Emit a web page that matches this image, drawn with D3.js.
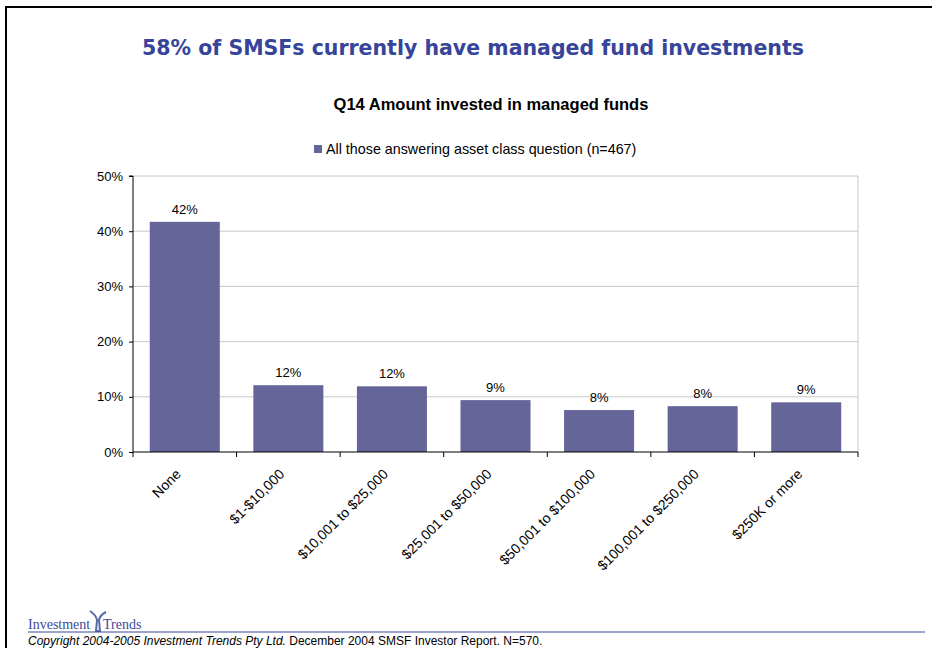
<!DOCTYPE html>
<html>
<head>
<meta charset="utf-8">
<script src="https://cdn.jsdelivr.net/npm/d3@7"></script>
<style>
  body { margin: 0; background: #fff; }
  svg { display: block; }
</style>
</head>
<body>
<script>
// chart data
let categories = ["None", "$1-$10,000", "$10,001 to $25,000", "$25,001 to $50,000",
                  "$50,001 to $100,000", "$100,001 to $250,000", "$250K or more"]
let values = [41.7, 12.1, 11.9, 9.4, 7.6, 8.3, 9.0]
let valueLabels = ["42%", "12%", "12%", "9%", "8%", "8%", "9%"]
let yTicks = [0, 10, 20, 30, 40, 50]

let width = 932
let height = 648
let margin = {top: 176, left: 133, right: 74, bottom: 196}
let plotW = width - margin.left - margin.right
let plotH = height - margin.top - margin.bottom

let svg = d3.select("body")
            .append("svg")
            .attr("width", width)
            .attr("height", height)

// page frame (top and left edge)
svg.append("line").attr("x1", 5).attr("x2", width).attr("y1", 7).attr("y2", 7)
    .attr("stroke", "#000").attr("stroke-width", 2)
svg.append("line").attr("x1", 6).attr("x2", 6).attr("y1", 6).attr("y2", height)
    .attr("stroke", "#000").attr("stroke-width", 2)

svg.append("text")
    .attr("x", 473).attr("y", 55)
    .attr("text-anchor", "middle")
    .style("font-family", "DejaVu Sans, Verdana, sans-serif")
    .style("font-weight", "bold")
    .style("font-size", "20.5px")
    .style("fill", "#36459a")
    .text("58% of SMSFs currently have managed fund investments")

svg.append("text")
    .attr("x", 491).attr("y", 110)
    .attr("text-anchor", "middle")
    .style("font-family", "Liberation Sans, Arial, sans-serif")
    .style("font-weight", "bold")
    .style("font-size", "16.5px")
    .text("Q14 Amount invested in managed funds")

// legend
svg.append("rect").attr("x", 314).attr("y", 145).attr("width", 8).attr("height", 8)
    .attr("fill", "#65659a")
svg.append("text").attr("x", 326).attr("y", 154)
    .style("font-family", "Liberation Sans, Arial, sans-serif")
    .style("font-size", "14.3px")
    .text("All those answering asset class question (n=467)")

let xScale = d3.scaleBand()
                .domain(categories)
                .range([margin.left, margin.left + plotW])
                .paddingInner(0.324)
                .paddingOuter(0.162)

let yScale = d3.scaleLinear()
                .domain([0, 50])
                .range([margin.top + plotH, margin.top])

// gridlines
svg.append("g")
    .selectAll("line")
    .data(yTicks.slice(1))
    .enter()
    .append("line")
    .attr("x1", margin.left).attr("x2", margin.left + plotW)
    .attr("y1", d => yScale(d)).attr("y2", d => yScale(d))
    .attr("stroke", "#c8c8c8")

svg.append("line")
    .attr("x1", margin.left + plotW).attr("x2", margin.left + plotW)
    .attr("y1", margin.top).attr("y2", margin.top + plotH)
    .attr("stroke", "#c8c8c8")

// bars
svg.selectAll(".bar")
    .data(values)
    .enter()
    .append("rect")
    .attr("class", "bar")
    .attr("x", (d, i) => xScale(categories[i]))
    .attr("y", d => yScale(d))
    .attr("width", xScale.bandwidth())
    .attr("height", d => yScale(0) - yScale(d))
    .attr("fill", "#65659a")

svg.selectAll(".vlabel")
    .data(values)
    .enter()
    .append("text")
    .attr("class", "vlabel")
    .attr("x", (d, i) => xScale(categories[i]) + xScale.bandwidth() / 2)
    .attr("y", d => yScale(d) - 8)
    .attr("text-anchor", "middle")
    .style("font-family", "Liberation Sans, Arial, sans-serif")
    .style("font-size", "13px")
    .text((d, i) => valueLabels[i])

// y axis
let yAxis = d3.axisLeft(yScale)
                .tickValues(yTicks)
                .tickFormat(d => d + "%")
                .tickSize(4)
                .tickPadding(6)

svg.append("g")
    .attr("transform", "translate(" + margin.left + ",0)")
    .call(yAxis)
    .call(g => g.select(".domain").attr("d", "M-4," + yScale(50) + "H0V" + yScale(0)))
    .selectAll("text")
    .style("font-family", "Liberation Sans, Arial, sans-serif")
    .style("font-size", "13px")
    .attr("fill", "#000")

// x axis: ticks sit between the categories
let xAxisG = svg.append("g")
    .attr("transform", "translate(0," + yScale(0) + ")")

xAxisG.append("line")
    .attr("x1", margin.left).attr("x2", margin.left + plotW)
    .attr("stroke", "#000")

let step = xScale.step()
xAxisG.selectAll(".xtick")
    .data(d3.range(categories.length + 1))
    .enter()
    .append("line")
    .attr("class", "xtick")
    .attr("x1", i => margin.left + i * step)
    .attr("x2", i => margin.left + i * step)
    .attr("y1", 0).attr("y2", 5)
    .attr("stroke", "#000")

xAxisG.selectAll(".xlabel")
    .data(categories)
    .enter()
    .append("text")
    .attr("class", "xlabel")
    .attr("text-anchor", "end")
    .attr("transform", d => "translate(" + (xScale(d) + xScale.bandwidth() / 2 - 3) + ",23) rotate(-45)")
    .style("font-family", "Liberation Sans, Arial, sans-serif")
    .style("font-size", "14px")
    .text(d => d)

// footer
svg.append("text").attr("x", 28).attr("y", 629)
    .style("font-family", "Liberation Serif, Times New Roman, serif")
    .style("font-size", "14px")
    .style("fill", "#3b4a9a")
    .text("Investment")
svg.append("text").attr("x", 103).attr("y", 629)
    .style("font-family", "Liberation Serif, Times New Roman, serif")
    .style("font-size", "14px")
    .style("fill", "#3b4a9a")
    .text("Trends")
svg.append("path")
    .attr("d", "M90,611 Q96,615 97,620 L96,631 L100,631 L99,620 Q100,615 106,612")
    .attr("fill", "none").attr("stroke", "#5a6aa8").attr("stroke-width", 2)
svg.append("line").attr("x1", 28).attr("x2", 925).attr("y1", 632).attr("y2", 632)
    .attr("stroke", "#3b4a9a").attr("stroke-width", 1)

let foot = svg.append("text").attr("x", 28).attr("y", 645)
    .style("font-family", "Liberation Sans, Arial, sans-serif")
    .style("font-size", "12px")
foot.append("tspan").style("font-style", "italic").text("Copyright 2004-2005 Investment Trends Pty Ltd.")
foot.append("tspan").text(" December 2004 SMSF Investor Report. N=570.")
</script>
</body>
</html>
